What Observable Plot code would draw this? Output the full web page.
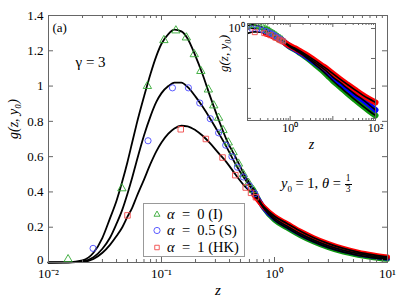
<!DOCTYPE html>
<html><head><meta charset="utf-8">
<script src="https://cdn.jsdelivr.net/npm/d3@7"></script>
<script src="https://cdn.jsdelivr.net/npm/@observablehq/plot@0.6"></script>
<style>
html,body{margin:0;padding:0;background:#fff;}
#wrap{position:relative;width:399px;height:299px;font-family:'Liberation Serif',serif;overflow:hidden;}
#wrap svg text{font-family:'Liberation Serif',serif;}
#inset{position:absolute;left:205px;top:8px;}
#legend{position:absolute;left:143px;top:203px;width:102px;height:54px;border:1px solid #999;background:#fff;box-sizing:border-box;font-size:14.5px;}
.row{position:absolute;left:0;height:16px;display:flex;align-items:center;white-space:nowrap;}
.row svg{margin-left:8px;margin-right:5px;}
#ann{position:absolute;left:281px;top:174px;font-size:14.5px;white-space:nowrap;display:flex;align-items:center;}
.frac{display:inline-flex;flex-direction:column;font-size:9.5px;line-height:1;text-align:center;margin-left:4px;}
.frac span:first-child{border-bottom:0.8px solid #000;padding:0 1px;}
</style></head>
<body>
<div id="wrap"></div>
<script>
// ---------- data ----------
const zGrid = [0.01,0.015,0.02,0.025,0.03,0.035,0.04,0.045,0.05,0.055,0.06,0.07,0.08,0.09,0.1,0.115,0.13,0.15,0.17,0.2,0.23,0.27,0.32,0.38,0.45,0.55,0.65,0.8,1,1.3,1.7,2.2,3,4,5.5,7.5,10,15,22,33,50,70,100];
const gAlpha0 = [0,0.001,0.012,0.055,0.14,0.25,0.35,0.46,0.57,0.68,0.78,0.94,1.07,1.17,1.24,1.295,1.32,1.31,1.27,1.17,1.07,0.94,0.81,0.69,0.6,0.49,0.415,0.31,0.24,0.195,0.152,0.118,0.084,0.06,0.041,0.027,0.018,0.011,0.0068,0.0042,0.0026,0.0018,0.00125];
const gAlpha05 = [0,0.0005,0.006,0.03,0.078,0.14,0.22,0.3,0.39,0.48,0.57,0.72,0.83,0.91,0.96,1.0,1.02,1.02,0.995,0.94,0.885,0.815,0.735,0.65,0.56,0.47,0.405,0.312,0.25,0.205,0.162,0.128,0.094,0.07,0.05,0.035,0.024,0.0155,0.01,0.0064,0.0042,0.0029,0.0019];
const gAlpha1 = [0,0.0003,0.003,0.02,0.055,0.1,0.15,0.2,0.26,0.31,0.37,0.47,0.56,0.63,0.68,0.73,0.76,0.775,0.772,0.75,0.72,0.675,0.62,0.565,0.5,0.43,0.385,0.316,0.262,0.22,0.177,0.142,0.107,0.081,0.059,0.043,0.031,0.02,0.0135,0.009,0.006,0.0045,0.0034];

const markZ0 = [0.0149,0.0446,0.075,0.105,0.134,0.166,0.195,0.223,0.26,0.29,0.32,0.35,0.39,0.43,0.48,0.53,0.59,0.65];
const markG0 = [0.018,0.42,1.0,1.26,1.315,1.275,1.18,1.085,0.98,0.89,0.82,0.75,0.68,0.625,0.56,0.5,0.45,0.41];
const markZ05 = [0.0248,0.076,0.125,0.173,0.218,0.27,0.32,0.37,0.42,0.47,0.53,0.6,0.67];
const markG05 = [0.08,0.69,0.99,0.99,0.904,0.815,0.735,0.665,0.6,0.54,0.485,0.435,0.39];
const markZ1 = [0.05,0.148,0.247,0.347,0.45,0.556,0.62,0.685];
const markG1 = [0.267,0.755,0.70,0.595,0.495,0.425,0.395,0.37];

const seriesNames = ["α = 0 (I)", "α = 0.5 (S)", "α = 1 (HK)"];
const seriesSymbols = ["triangle", "circle", "square"];
const markerColors = ["#33a833", "#4a4aff", "#f04a4a"];
const bandColors = ["#0c960c", "#0000ff", "#ff0000"];

const xMajorTicks = [0.01, 0.1, 1, 10];
const xTickLabels = ["10⁻²", "10⁻¹", "10⁰", "10¹"];
const yTicks = [0, 0.2, 0.4, 0.6, 0.8, 1, 1.2, 1.4];
const yTickLabels = ["0", "0.2", "0.4", "0.6", "0.8", "1", "1.2", "1.4"];
const insetXMajor = [0.1, 1, 10, 100];
const insetXLabelTicks = [1, 100];
const insetXLabels = ["10⁰", "10²"];
const insetYMajor = [0.001, 0.01, 0.1, 1];
const insetYLabelTicks = [1];
const insetYLabels = ["10⁰"];

// ---------- tables ----------
const gs = [gAlpha0, gAlpha05, gAlpha1];
const curveRows = [];
gs.forEach((arr, s) => zGrid.forEach((z, i) => curveRows.push({s, z, g: arr[i]})));
const markSets = [[markZ0, markG0], [markZ05, markG05], [markZ1, markG1]];
const markRows = [];
markSets.forEach(([zs, ys], s) => zs.forEach((z, i) => markRows.push({s, z, g: ys[i]})));
const minorTicks = (lo, hi) => { const t = []; for (let e = lo; e < hi; e++) for (let m = 2; m <= 9; m++) t.push(m * Math.pow(10, e)); return t; };
const fmtFrom = (ticks, labels) => d => { const i = ticks.findIndex(t => Math.abs(t - d) < 1e-9 * Math.max(1, t)); return i >= 0 ? labels[i] : ""; };

const FONT = "'Liberation Serif', serif";
const axisCol = "#666";

// ---------- main plot ----------
const fw = 399 - 48 - 12, fh = 299 - 15 - 37;
const mainBands = [0, 1, 2].map(s => Plot.line(curveRows.filter(d => d.s === s && d.z >= 0.65 && d.z <= 10), {x: "z", y: "g", stroke: bandColors[s], strokeWidth: 5, curve: "monotone-x"}));
const main = Plot.plot({
  width: 399, height: 299,
  marginLeft: 48, marginRight: 12, marginTop: 15, marginBottom: 37,
  x: {type: "log", domain: [0.01, 10]},
  y: {domain: [0, 1.4]},
  style: {fontFamily: FONT, fontSize: "13px", color: "#000", background: "white"},
  marks: [
    ...mainBands,
    Plot.line(curveRows.filter(d => d.z <= 10), {x: "z", y: "g", z: "s", stroke: "black", strokeWidth: 1.8, curve: "monotone-x"}),
    Plot.dot(markRows, {x: "z", y: "g", symbol: d => seriesSymbols[d.s], stroke: d => markerColors[d.s], fill: "none", r: 3.1, strokeWidth: 0.9}),
    Plot.frame({stroke: axisCol}),
    Plot.tickX(xMajorTicks, {x: d => d, insetTop: fh - 5, stroke: axisCol}),
    Plot.tickX(xMajorTicks, {x: d => d, insetBottom: fh - 5, stroke: axisCol}),
    Plot.tickX(minorTicks(-2, 1), {x: d => d, insetTop: fh - 3, stroke: axisCol}),
    Plot.tickX(minorTicks(-2, 1), {x: d => d, insetBottom: fh - 3, stroke: axisCol}),
    Plot.tickY(yTicks, {y: d => d, insetRight: fw - 5, stroke: axisCol}),
    Plot.tickY(yTicks, {y: d => d, insetLeft: fw - 5, stroke: axisCol}),
    Plot.axisX({ticks: xMajorTicks, tickSize: 0, tickPadding: 6, tickFormat: fmtFrom(xMajorTicks, xTickLabels), label: null, fontSize: 13}),
    Plot.axisY({ticks: yTicks.slice(1), tickSize: 0, tickPadding: 5, tickFormat: fmtFrom(yTicks, yTickLabels), label: null, fontSize: 13}),
    Plot.axisY({ticks: yTicks.slice(0, 1), tickSize: 0, tickPadding: 5, dy: -3, tickFormat: fmtFrom(yTicks, yTickLabels), label: null, fontSize: 13}),
    Plot.text(["(a)"], {frameAnchor: "top-left", lineAnchor: "middle", dx: 4, dy: 12, textAnchor: "start", fontSize: 13}),
    Plot.text(["γ = 3"], {frameAnchor: "top-left", lineAnchor: "middle", dx: 27, dy: 47, textAnchor: "start", fontSize: 15}),
    Plot.text(["g(z, y₀)"], {frameAnchor: "left", dx: -35, rotate: -90, fontSize: 14, fontStyle: "italic"}),
    Plot.text(["z"], {frameAnchor: "bottom", lineAnchor: "middle", dy: 28, fontSize: 15, fontStyle: "italic"})
  ]
});

// ---------- inset ----------
const iw = 128, ih = 97;
const insetBands = [0, 1, 2].map(s => Plot.line(curveRows.filter(d => d.s === s && d.z >= 0.27), {x: "z", y: "g", stroke: bandColors[s], strokeWidth: 6, curve: "monotone-x"}));
const inset = Plot.plot({
  width: 188, height: 150,
  marginLeft: 42, marginRight: 18, marginTop: 15, marginBottom: 38,
  x: {type: "log", domain: [0.1, 100]},
  y: {type: "log", domain: [8.5e-4, 1.47]},
  style: {fontFamily: FONT, fontSize: "12px", color: "#000", background: "transparent"},
  marks: [
    Plot.frame({fill: "white"}),
    ...insetBands,
    Plot.line(curveRows.filter(d => d.z >= 0.1), {x: "z", y: "g", z: "s", stroke: "black", strokeWidth: 1.6, curve: "monotone-x", clip: true}),
    Plot.dot(markRows.filter(d => d.z >= 0.1), {x: "z", y: "g", symbol: d => seriesSymbols[d.s], stroke: d => markerColors[d.s], fill: "none", r: 2.8, strokeWidth: 0.9, clip: true}),
    Plot.frame({stroke: axisCol}),
    Plot.tickX(insetXMajor, {x: d => d, insetTop: ih - 4, stroke: axisCol}),
    Plot.tickX(insetXMajor, {x: d => d, insetBottom: ih - 4, stroke: axisCol}),
    Plot.tickX(minorTicks(-1, 2), {x: d => d, insetTop: ih - 2, stroke: axisCol}),
    Plot.tickX(minorTicks(-1, 2), {x: d => d, insetBottom: ih - 2, stroke: axisCol}),
    Plot.tickY(insetYMajor, {y: d => d, insetRight: iw - 4, stroke: axisCol}),
    Plot.tickY(insetYMajor, {y: d => d, insetLeft: iw - 4, stroke: axisCol}),
    Plot.axisX({ticks: insetXLabelTicks, tickSize: 0, tickPadding: 3, tickFormat: fmtFrom(insetXLabelTicks, insetXLabels), label: null, fontSize: 12}),
    Plot.axisY({ticks: insetYLabelTicks, tickSize: 0, tickPadding: 3, tickFormat: fmtFrom(insetYLabelTicks, insetYLabels), label: null, fontSize: 12}),
    Plot.text(["g(z, y₀)"], {frameAnchor: "left", dx: -24, rotate: -90, fontSize: 13, fontStyle: "italic"}),
    Plot.text(["z"], {frameAnchor: "bottom", lineAnchor: "middle", dy: 24, fontSize: 14, fontStyle: "italic"})
  ]
});
inset.id = "inset";

const wrap = document.getElementById("wrap");
wrap.appendChild(main);
wrap.appendChild(inset);

// ---------- legend ----------
const legend = document.createElement("div");
legend.id = "legend";
const rowTops = [2, 18, 35];
seriesNames.forEach((name, s) => {
  const row = document.createElement("div");
  row.className = "row";
  row.style.top = rowTops[s] + "px";
  const svg = d3.create("svg").attr("width", 10).attr("height", 10);
  const sym = [d3.symbolTriangle2, d3.symbolCircle, d3.symbolSquare2][s];
  svg.append("path").attr("transform", "translate(5,5.5)")
    .attr("d", d3.symbol(sym, Math.PI * 3.1 * 3.1 * (s === 1 ? 1 : 0.85))())
    .attr("fill", "none").attr("stroke", markerColors[s]).attr("stroke-width", 0.9);
  row.appendChild(svg.node());
  const t = document.createElement("span");
  const parts = name.split("α");
  t.innerHTML = "<i>α</i>" + parts[1].replace("=", "&nbsp;=&nbsp;").replace(" (", "&nbsp;(");
  row.appendChild(t);
  legend.appendChild(row);
});
wrap.appendChild(legend);

// ---------- annotation ----------
const ann = document.createElement("div");
ann.id = "ann";
ann.innerHTML = "<span><i>y</i><sub style='font-size:9px'>0</sub>&nbsp;=&nbsp;1,&nbsp;<i>θ</i>&nbsp;=</span><span class='frac'><span>1</span><span>3</span></span>";
wrap.appendChild(ann);
</script>
</body></html>
